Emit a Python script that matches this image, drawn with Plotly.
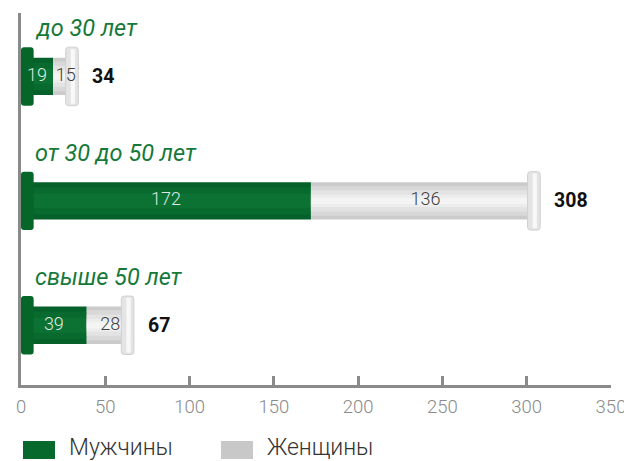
import plotly.graph_objects as go

# Данные
groups = ["до 30 лет", "от 30 до 50 лет", "свыше 50 лет"]
men = [19, 172, 39]
women = [15, 136, 28]
totals = [m + w for m, w in zip(men, women)]
legend_names = ["Мужчины", "Женщины"]

pos = list(range(len(groups)))
cap = 7.5

GREEN = "#07692c"
AXIS = "#8a8a8a"
FONT = "Roboto"

# страница браузера сдвигает график на 8px (margin у body) — учитываем это
W, H = 624, 453
L, R, T, B = 13, 21, 5, 76
PW, PH = W - L - R, H - T - B

fig = go.Figure()

# тело столбцов: несколько слоёв для имитации объёма
for wd, col in [(0.30, "#05602a"), (0.22, "#086a2e"), (0.12, "#0c7233")]:
    fig.add_trace(go.Bar(y=pos, x=men, base=[0] * 3, orientation="h", width=wd,
                         marker=dict(color=col, line=dict(width=0)), hoverinfo="skip"))
for wd, col in [(0.30, "#cbcbcb"), (0.24, "#d8d8d8"), (0.17, "#e3e3e3"),
                (0.10, "#ededed"), (0.05, "#f4f4f4")]:
    fig.add_trace(go.Bar(y=pos, x=women, base=men, orientation="h", width=wd,
                         marker=dict(color=col, line=dict(width=0)), hoverinfo="skip"))

# заглушки по краям
fig.add_trace(go.Bar(y=pos, x=[cap] * 3, base=[0] * 3, orientation="h", width=0.47,
                     marker=dict(color="#066529", cornerradius=3, line=dict(width=0)),
                     hoverinfo="skip"))
fig.add_trace(go.Bar(y=pos, x=[cap] * 3, base=[t - cap for t in totals], orientation="h",
                     width=0.47,
                     marker=dict(color="#e4e4e4", cornerradius=3,
                                 line=dict(width=1, color="#d0d0d0")),
                     hoverinfo="skip"))
fig.add_trace(go.Bar(y=pos, x=[cap / 3] * 3, base=[t - cap * 0.6 for t in totals],
                     orientation="h", width=0.44,
                     marker=dict(color="#f8f8f8", line=dict(width=0)),
                     hoverinfo="skip"))

# подписи внутри
fig.add_trace(go.Scatter(y=pos, x=[m / 2 for m in men], mode="text",
                         text=[str(m) for m in men],
                         textfont=dict(family=FONT, size=18, color="#dcebe0", weight=300),
                         hoverinfo="skip"))
fig.add_trace(go.Scatter(y=pos, x=[m + w / 2 for m, w in zip(men, women)], mode="text",
                         text=[str(w) for w in women],
                         textfont=dict(family=FONT, size=18, color="#404040", weight=300),
                         hoverinfo="skip"))

for i, g in enumerate(groups):
    fig.add_annotation(x=0, y=i, xref="x", yref="y", text=g, showarrow=False,
                       xanchor="left", yanchor="middle", xshift=12, yshift=48,
                       font=dict(family=FONT, size=23.5, color="#16793a", style="italic"))
    fig.add_annotation(x=totals[i], y=i, xref="x", yref="y", text=f"<b>{totals[i]}</b>",
                       showarrow=False, xanchor="left", yanchor="middle", xshift=12,
                       font=dict(family=FONT, size=19.5, color="#111111"))

# легенда (координаты в пикселях страницы -> доли области построения)
def px_x(x):
    return (x - 8 - L) / PW

def px_y(y):
    return (H - B - (y - 8)) / PH

for k, (name, col) in enumerate(zip(legend_names, [GREEN, "#c8c8c8"])):
    x0 = 23 + k * 198
    fig.add_shape(type="rect", xref="paper", yref="paper",
                  x0=px_x(x0), x1=px_x(x0 + 32), y0=px_y(459), y1=px_y(441),
                  fillcolor=col, line=dict(width=0))
    fig.add_annotation(xref="paper", yref="paper", x=px_x(x0 + 44), y=px_y(447),
                       text=name, showarrow=False, xanchor="left", yanchor="middle",
                       font=dict(family=FONT, size=23, color="#333333", weight=300))

fig.update_layout(
    width=W, height=H,
    margin=dict(l=L, r=R, t=T, b=B),
    barmode="overlay",
    showlegend=False,
    plot_bgcolor="white", paper_bgcolor="white",
    xaxis=dict(range=[0, 350], dtick=50, showgrid=False, zeroline=False,
               showline=True, linecolor=AXIS, linewidth=2.5,
               ticks="inside", ticklen=9, tickwidth=2.5, tickcolor=AXIS,
               ticklabelstandoff=3,
               tickfont=dict(family=FONT, size=18.5, color=AXIS, weight=300)),
    yaxis=dict(range=[2.48, -0.51], showgrid=False, zeroline=False,
               showline=True, linecolor=AXIS, linewidth=2.5,
               showticklabels=False, ticks=""),
)

fig.write_html("out.html")
